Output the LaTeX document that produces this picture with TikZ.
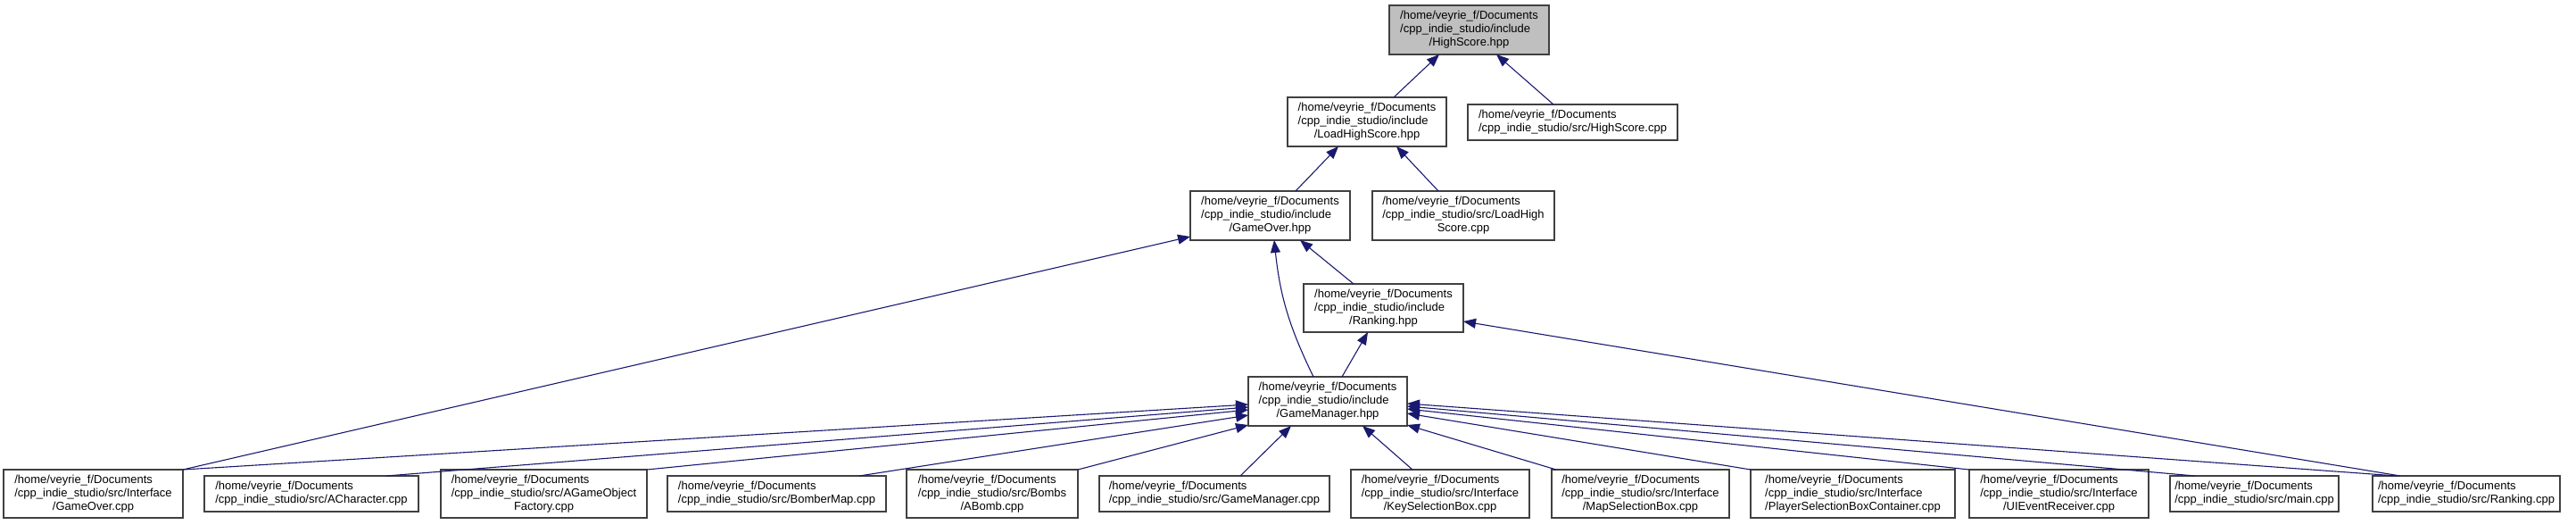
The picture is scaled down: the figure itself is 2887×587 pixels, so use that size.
\documentclass[tikz,border=0pt]{standalone}
\usepackage{fontspec}
\setmainfont{Liberation Sans}
\usetikzlibrary{arrows.meta,calc}
\definecolor{edgecol}{HTML}{191970}
\definecolor{boxline}{HTML}{404040}
\definecolor{hifill}{HTML}{BFBFBF}
\newcommand{\cl}[1]{\multicolumn{1}{@{}c@{}}{#1}}
\tikzset{
  box/.style={draw=boxline, line width=1.2pt, rectangle, inner sep=0pt, outer sep=0pt, fill=white,
    font=\fontsize{13}{15}\selectfont},
  hibox/.style={box, fill=hifill},
  edge/.style={draw=edgecol, line width=1.1pt, -{Triangle[length=14pt,width=11pt]}}
}
\begin{document}
\begin{tikzpicture}[x=1pt,y=-1pt]
\useasboundingbox (0,0) rectangle (2887,587);
% top levels
\node[hibox, minimum width=179pt, minimum height=55pt] (hsh) at (1646.5,33.5)
  {\begin{tabular}{@{}l@{}}/home/veyrie\_f/Documents\\/cpp\_indie\_studio/include\\\cl{/HighScore.hpp}\end{tabular}};
\node[box, minimum width=178pt, minimum height=55pt] (lhh) at (1532,136.5)
  {\begin{tabular}{@{}l@{}}/home/veyrie\_f/Documents\\/cpp\_indie\_studio/include\\\cl{/LoadHighScore.hpp}\end{tabular}};
\node[box, minimum width=235pt, minimum height=40pt] (hsc) at (1762.5,137)
  {\begin{tabular}{@{}l@{}}/home/veyrie\_f/Documents\\/cpp\_indie\_studio/src/HighScore.cpp\end{tabular}};
\node[box, minimum width=179pt, minimum height=55pt] (goh) at (1423.5,241.5)
  {\begin{tabular}{@{}l@{}}/home/veyrie\_f/Documents\\/cpp\_indie\_studio/include\\\cl{/GameOver.hpp}\end{tabular}};
\node[box, minimum width=204pt, minimum height=55pt] (lhc) at (1640,241.5)
  {\begin{tabular}{@{}l@{}}/home/veyrie\_f/Documents\\/cpp\_indie\_studio/src/LoadHigh\\\cl{Score.cpp}\end{tabular}};
\node[box, minimum width=179pt, minimum height=54pt] (rkh) at (1550.5,345)
  {\begin{tabular}{@{}l@{}}/home/veyrie\_f/Documents\\/cpp\_indie\_studio/include\\\cl{/Ranking.hpp}\end{tabular}};
\node[box, minimum width=178pt, minimum height=55pt] (gmh) at (1488,449.5)
  {\begin{tabular}{@{}l@{}}/home/veyrie\_f/Documents\\/cpp\_indie\_studio/include\\\cl{/GameManager.hpp}\end{tabular}};
% bottom row
\node[box, minimum width=201pt, minimum height=54pt] (goc) at (104.5,553)
  {\begin{tabular}{@{}l@{}}/home/veyrie\_f/Documents\\/cpp\_indie\_studio/src/Interface\\\cl{/GameOver.cpp}\end{tabular}};
\node[box, minimum width=240pt, minimum height=40pt] (ach) at (349,553)
  {\begin{tabular}{@{}l@{}}/home/veyrie\_f/Documents\\/cpp\_indie\_studio/src/ACharacter.cpp\end{tabular}};
\node[box, minimum width=231pt, minimum height=54pt] (agf) at (609.5,553)
  {\begin{tabular}{@{}l@{}}/home/veyrie\_f/Documents\\/cpp\_indie\_studio/src/AGameObject\\\cl{Factory.cpp}\end{tabular}};
\node[box, minimum width=245pt, minimum height=40pt] (bmc) at (870.5,553)
  {\begin{tabular}{@{}l@{}}/home/veyrie\_f/Documents\\/cpp\_indie\_studio/src/BomberMap.cpp\end{tabular}};
\node[box, minimum width=192pt, minimum height=54pt] (abc) at (1112,553)
  {\begin{tabular}{@{}l@{}}/home/veyrie\_f/Documents\\/cpp\_indie\_studio/src/Bombs\\\cl{/ABomb.cpp}\end{tabular}};
\node[box, minimum width=258pt, minimum height=40pt] (gmc) at (1361,553)
  {\begin{tabular}{@{}l@{}}/home/veyrie\_f/Documents\\/cpp\_indie\_studio/src/GameManager.cpp\end{tabular}};
\node[box, minimum width=200pt, minimum height=54pt] (ksb) at (1614,553)
  {\begin{tabular}{@{}l@{}}/home/veyrie\_f/Documents\\/cpp\_indie\_studio/src/Interface\\\cl{/KeySelectionBox.cpp}\end{tabular}};
\node[box, minimum width=199pt, minimum height=54pt] (msb) at (1838.5,553)
  {\begin{tabular}{@{}l@{}}/home/veyrie\_f/Documents\\/cpp\_indie\_studio/src/Interface\\\cl{/MapSelectionBox.cpp}\end{tabular}};
\node[box, minimum width=229pt, minimum height=54pt] (psb) at (2076.5,553)
  {\begin{tabular}{@{}l@{}}/home/veyrie\_f/Documents\\/cpp\_indie\_studio/src/Interface\\\cl{/PlayerSelectionBoxContainer.cpp}\end{tabular}};
\node[box, minimum width=201pt, minimum height=54pt] (uie) at (2307.5,553)
  {\begin{tabular}{@{}l@{}}/home/veyrie\_f/Documents\\/cpp\_indie\_studio/src/Interface\\\cl{/UIEventReceiver.cpp}\end{tabular}};
\node[box, minimum width=189pt, minimum height=40pt] (mnc) at (2526.5,553)
  {\begin{tabular}{@{}l@{}}/home/veyrie\_f/Documents\\/cpp\_indie\_studio/src/main.cpp\end{tabular}};
\node[box, minimum width=210pt, minimum height=40pt] (rkc) at (2764,553)
  {\begin{tabular}{@{}l@{}}/home/veyrie\_f/Documents\\/cpp\_indie\_studio/src/Ranking.cpp\end{tabular}};
% edges
\draw[edge] ($(lhh.north west)+(119,0)$) -- ($(hsh.north west)+(56,55)$);
\draw[edge] ($(hsc.north west)+(96,0)$) -- ($(hsh.north west)+(120,55)$);
\draw[edge] ($(goh.north west)+(118,0)$) -- ($(lhh.north west)+(57,55)$);
\draw[edge] ($(lhc.north west)+(74,0)$) -- ($(lhh.north west)+(122,55)$);
\draw[edge] ($(rkh.north west)+(56,0)$) -- ($(goh.north west)+(123,55)$);
\draw[edge] ($(gmh.north west)+(73,0)$) to[out=116,in=-84] ($(goh.north west)+(94,55)$);
\draw[edge] ($(gmh.north west)+(105,0)$) -- ($(rkh.north west)+(72,54)$);
\draw[edge] (goc.north east) -- ($(goh.north west)+(0,51)$);
\draw[edge] ($(rkc.north west)+(31,0)$) -- ($(rkh.north west)+(179,42)$);
\draw[edge] (goc.north east) -- ($(gmh.north west)+(0,31)$);
\draw[edge] ($(ach.north west)+(204,0)$) -- ($(gmh.north west)+(0,34)$);
\draw[edge] (agf.north east) -- ($(gmh.north west)+(0,37)$);
\draw[edge] ($(bmc.north west)+(215,0)$) -- ($(gmh.north west)+(0,43)$);
\draw[edge] (abc.north east) -- ($(gmh.north west)+(0,54)$);
\draw[edge] ($(gmc.north west)+(158,0)$) -- ($(gmh.north west)+(48,55)$);
\draw[edge] ($(ksb.north west)+(69,0)$) -- ($(gmh.north west)+(128,55)$);
\draw[edge] ($(msb.north west)+(5,0)$) -- ($(gmh.north west)+(178,54)$);
\draw[edge] (psb.north west) -- ($(gmh.north west)+(178,41)$);
\draw[edge] (uie.north west) -- ($(gmh.north west)+(178,36)$);
\draw[edge] ($(mnc.north west)+(28,0)$) -- ($(gmh.north west)+(178,33)$);
\draw[edge] ($(rkc.north west)+(27,0)$) -- ($(gmh.north west)+(178,30)$);
\end{tikzpicture}
\end{document}
